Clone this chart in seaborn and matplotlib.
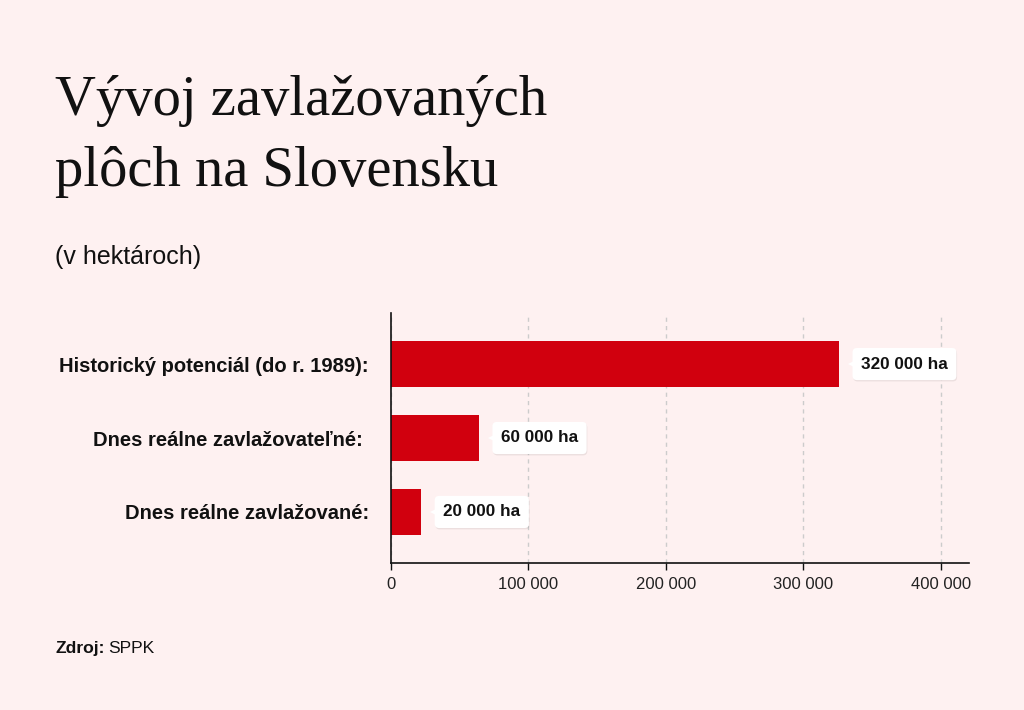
import matplotlib
matplotlib.use("Agg")
import matplotlib.pyplot as plt
import matplotlib.transforms as mtransforms
import matplotlib.patheffects as pe
import seaborn as sns
import pandas as pd

categories = ["Historický potenciál (do r. 1989):",
              "Dnes reálne zavlažovateľné: ",
              "Dnes reálne zavlažované:"]
values = [326000, 64000, 22000]
value_labels = ["320 000 ha", "60 000 ha", "20 000 ha"]
x_ticks = [0, 100000, 200000, 300000, 400000]
x_tick_labels = ["0", "100 000", "200 000", "300 000", "400 000"]

BG = "#FEF1F1"
RED = "#D1000E"

sns.set_theme(style="white")
plt.rcParams["font.family"] = ["Liberation Sans", "DejaVu Sans"]

df = pd.DataFrame({"cat": categories, "val": values})

fig = plt.figure(figsize=(10.24, 7.10), dpi=100, facecolor=BG)
ax = fig.add_axes([391/1024, 1-563/710, (969-391)/1024, (563-313)/710])
ax.set_facecolor(BG)

sns.barplot(data=df, y="cat", x="val", orient="h", color=RED,
            width=0.63, saturation=1, linewidth=0, ax=ax, zorder=2)

ax.set_xlim(0, 420500)
ax.set_ylim(2.69, -0.69)
ax.set_xlabel("")
ax.set_ylabel("")
ax.set_xticks(x_ticks)
ax.set_xticklabels(x_tick_labels, fontsize=12, color="#222222")
ax.tick_params(axis="x", length=5, width=1, color="#111111", pad=5, bottom=True)
ax.tick_params(axis="y", length=0, pad=16)
for lab in ax.get_yticklabels():
    lab.set_fontsize(14.5)
    lab.set_fontweight("bold")
    lab.set_color("#111111")

for s in ["top", "right"]:
    ax.spines[s].set_visible(False)
for s in ["left", "bottom"]:
    ax.spines[s].set_visible(True)
    ax.spines[s].set_color("#111111")
    ax.spines[s].set_linewidth(1.2)
    ax.spines[s].set_zorder(4)

ax.xaxis.grid(True, linestyle=(0, (3, 3)), color="#cccccc", linewidth=1, zorder=0)
ax.set_axisbelow(True)

# value label boxes with pointer
for i, (v, lab) in enumerate(zip(values, value_labels)):
    tr_txt = mtransforms.offset_copy(ax.transData, fig=fig, x=22*0.72, y=0, units="points")
    t = ax.text(v, i, lab, transform=tr_txt, ha="left", va="center", fontsize=12.3,
                fontweight="bold", color="#111111", zorder=6,
                bbox=dict(boxstyle="round,pad=0.5,rounding_size=0.25", fc="white",
                          ec="none"))
    t.get_bbox_patch().set_path_effects(
        [pe.SimplePatchShadow(offset=(0.5, -1), shadow_rgbFace="#000000", alpha=0.07),
         pe.Normal()])
    tr_m = mtransforms.offset_copy(ax.transData, fig=fig, x=14*0.72, y=0, units="points")
    ax.plot([v], [i], marker="<", markersize=7, color="white", markeredgewidth=0,
            transform=tr_m, zorder=7, clip_on=False)

# titles
serif = ["Liberation Serif", "DejaVu Serif"]
fig.text(55/1024, 1-115/710, "Vývoj zavlažovaných", fontsize=40.8,
         family=serif, color="#111111", va="baseline")
fig.text(55/1024, 1-186/710, "plôch na Slovensku", fontsize=40.8,
         family=serif, color="#111111", va="baseline")
fig.text(55/1024, 1-257/710, "(v hektároch)", fontsize=18, color="#111111", va="center")

t = fig.text(55/1024, 1-653/710, "Zdroj:", fontsize=12.6, fontweight="bold",
             color="#111111", va="baseline")
fig.canvas.draw()
bb = t.get_window_extent()
fig.text((bb.x1 + 4)/1024, 1-653/710, "SPPK", fontsize=12.6, color="#111111", va="baseline")

fig.savefig("out.png", dpi=100, facecolor=BG)
